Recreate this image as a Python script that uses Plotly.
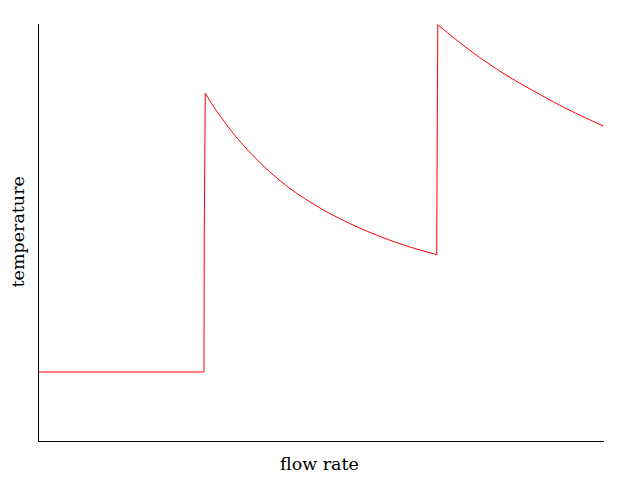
import plotly.graph_objects as go

# flat section and first jump
flat_x = [0.0, 29.2, 29.25, 29.43]
flat_y = [16.55, 16.55, 49.9, 83.38]

# first decay curve
curve1_x = [29.43, 30.85, 32.04, 34.39, 36.16, 39.12, 42.65, 46.19, 49.43,
            51.50, 55.04, 58.58, 62.12, 65.66, 70.39]
curve1_y = [83.38, 80.31, 77.99, 73.77, 70.94, 66.74, 62.42, 58.87, 56.12,
            54.53, 52.13, 50.02, 48.15, 46.52, 44.68]

# second jump
jump2_x = [70.39, 70.42, 70.58]
jump2_y = [44.68, 72.2, 99.83]

# second decay curve
curve2_x = [70.58, 72.74, 74.87, 77.17, 79.82, 83.36, 86.90, 90.44, 93.98, 99.88]
curve2_y = [99.83, 97.41, 95.11, 92.78, 90.26, 87.19, 84.41, 81.77, 79.28, 75.52]

fig = go.Figure()
for xs, ys, shape in [(flat_x, flat_y, "linear"), (curve1_x, curve1_y, "spline"),
                      (jump2_x, jump2_y, "linear"), (curve2_x, curve2_y, "spline")]:
    fig.add_trace(go.Scatter(x=xs, y=ys, mode="lines",
                             line=dict(color="#ff0000", width=1, shape=shape),
                             showlegend=False, hoverinfo="skip"))

axis_common = dict(showgrid=False, zeroline=False, showticklabels=False, ticks="",
                   showline=True, linecolor="black", linewidth=1)
fig.update_xaxes(range=[0, 100], **axis_common)
fig.update_yaxes(range=[0, 100], **axis_common)

fig.update_layout(
    width=640, height=480,
    margin=dict(l=31, r=44, t=16, b=47),
    plot_bgcolor="white", paper_bgcolor="white",
    font=dict(family="DejaVu Serif", size=17.5, color="black"),
    annotations=[
        dict(text="flow rate", xref="paper", yref="paper", x=0.5, y=0,
             xanchor="center", yanchor="middle", yshift=-23, xshift=-2,
             showarrow=False, font=dict(family="DejaVu Serif", size=17.5)),
        dict(text="temperature", xref="paper", yref="paper", x=0, y=0.5,
             xanchor="center", yanchor="middle", xshift=-22, textangle=-90,
             showarrow=False, font=dict(family="DejaVu Serif", size=17.5)),
    ],
)

fig.write_html("out.html")
